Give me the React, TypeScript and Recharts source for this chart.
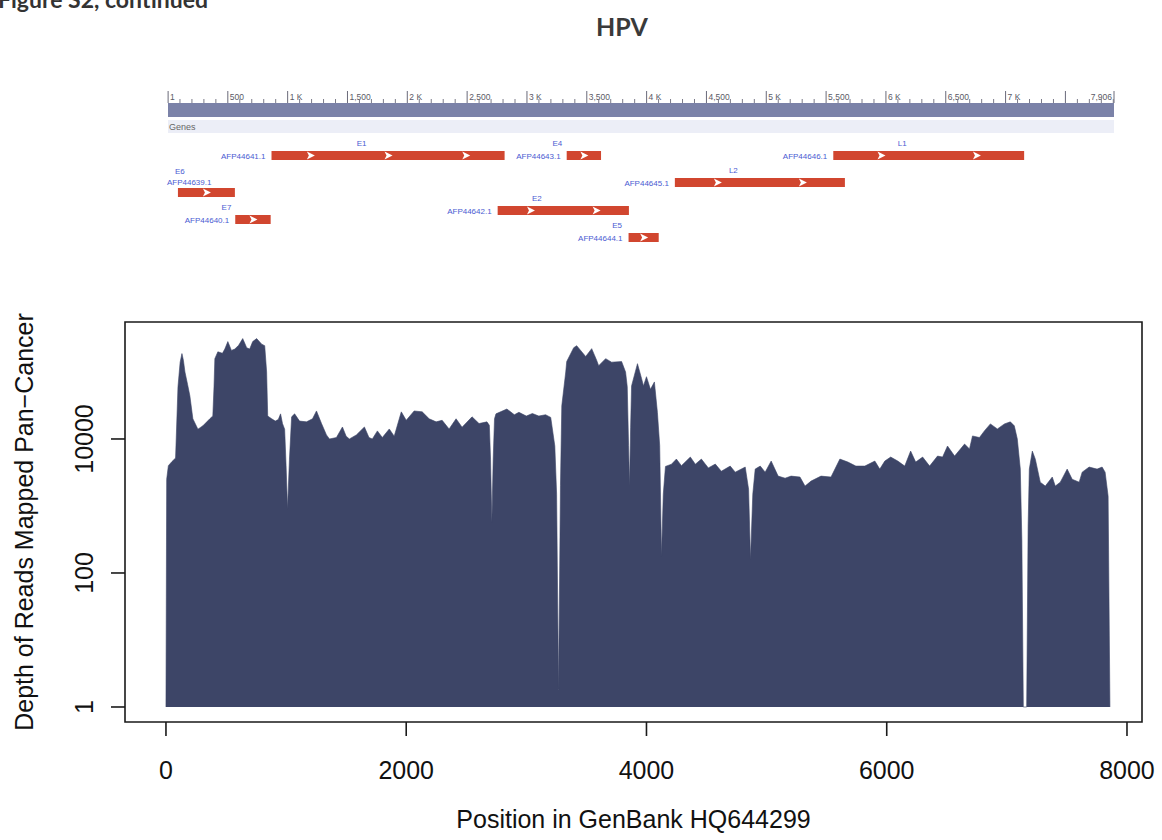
import React from 'react'
import { AreaChart, Area, ComposedChart, Scatter, XAxis, YAxis, ReferenceArea } from 'recharts'

// read depth along the HPV genome (bp position -> depth, pan-cancer)
const positions = [
  0, 6, 20, 50, 80, 100, 118, 133, 145, 158, 180, 199, 224, 266, 290, 307, 340, 365, 390, 400,
  407, 432, 470, 490, 515, 545, 573, 605, 639, 672, 697, 722, 755, 797, 822, 838, 847, 880, 910, 935,
  954, 970, 988, 1000, 1012, 1028, 1046, 1071, 1112, 1170, 1220, 1253, 1295, 1336, 1361, 1419, 1469, 1500, 1527, 1585,
  1652, 1690, 1718, 1760, 1801, 1859, 1900, 1959, 2000, 2066, 2133, 2191, 2249, 2299, 2357, 2415, 2465, 2548, 2606, 2672,
  2692, 2702, 2713, 2724, 2735, 2747, 2838, 2900, 2938, 3000, 3050, 3104, 3160, 3203, 3237, 3252, 3268, 3284, 3295, 3328,
  3336, 3394, 3419, 3494, 3544, 3585, 3602, 3660, 3710, 3793, 3826, 3840, 3851, 3859, 3868, 3876, 3925, 3959, 3975, 4000,
  4033, 4066, 4091, 4110, 4125, 4140, 4158, 4208, 4249, 4291, 4365, 4407, 4457, 4515, 4573, 4623, 4697, 4739, 4822, 4850,
  4866, 4885, 4905, 4947, 4988, 5038, 5096, 5154, 5204, 5278, 5320, 5370, 5453, 5536, 5610, 5677, 5743, 5818, 5901, 5942,
  5984, 6033, 6092, 6150, 6199, 6241, 6299, 6357, 6423, 6465, 6506, 6565, 6648, 6689, 6714, 6772, 6813, 6863, 6921, 6980,
  7029, 7062, 7087, 7112, 7125, 7137, 7165, 7177, 7187, 7212, 7237, 7278, 7320, 7378, 7403, 7445, 7502, 7544, 7602, 7627,
  7685, 7751, 7793, 7818, 7843, 7858,
]
const depths = [
  1, 2500, 4000, 4600, 5200, 60000, 140000, 188000, 150000, 100000, 65000, 44000, 20000, 14000, 15000, 15700, 18000, 20000, 22100, 60000,
  158000, 200000, 190000, 220000, 284000, 210000, 220000, 250000, 315000, 230000, 220000, 284000, 315000, 260000, 247000, 100000, 22000, 20000, 18500, 19500,
  23700, 17000, 14000, 4000, 900, 5000, 21400, 23700, 18500, 18000, 20000, 26200, 17000, 11500, 10000, 10500, 15100, 11000, 10000, 11500,
  15100, 10500, 10000, 13200, 10500, 14100, 11000, 25400, 19000, 26200, 25400, 20000, 18000, 19000, 14100, 20000, 15000, 21400, 17000, 18000,
  16000, 5000, 570, 5000, 20000, 23700, 28000, 23000, 25000, 22000, 24000, 22000, 23000, 21000, 7850, 1500, 1.8, 2000, 31200, 100000,
  143000, 230000, 247000, 170000, 223000, 150000, 124000, 158000, 140000, 143000, 100000, 60000, 8000, 1980, 15000, 62000, 133000, 80000, 62000, 85000,
  55000, 71000, 25000, 8000, 177, 1500, 3900, 4200, 5010, 4000, 5370, 4200, 5010, 3700, 4220, 3300, 3940, 3200, 3810, 1780,
  159, 1500, 3550, 3940, 3200, 4680, 2790, 2600, 2790, 2700, 1980, 2350, 2790, 2700, 5010, 4520, 3940, 3940, 4680, 3550,
  4680, 5370, 4680, 3940, 6600, 4520, 5370, 3940, 5560, 5370, 7850, 5560, 8400, 7100, 11100, 10500, 13200, 16800, 14100, 16800,
  18000, 15700, 10000, 3550, 300, 1, 1, 500, 3550, 6600, 5000, 2270, 1980, 2700, 1980, 2270, 3550, 2500, 2270, 3200,
  3810, 3550, 3810, 3200, 1400, 1,
]
const xTicks = [0, 2000, 4000, 6000, 8000]
const yTicks = [1, 100, 10000]

// gene track (GenBank HQ644299 CDS features)
const genomeLength = 7906
const geneNames = ['E6', 'E7', 'E1', 'E2', 'E4', 'E5', 'L2', 'L1']
const geneIds = ['AFP44639.1', 'AFP44640.1', 'AFP44641.1', 'AFP44642.1', 'AFP44643.1', 'AFP44644.1', 'AFP44645.1', 'AFP44646.1']
const geneStarts = [83, 562, 865, 2755, 3332, 3849, 4236, 5560]
const geneEnds = [559, 858, 2813, 3852, 3619, 4101, 5657, 7155]
const geneLanes = [2, 4, 0, 3, 0, 5, 1, 0]
const rulerTicks = [1, 500, 1000, 1500, 2000, 2500, 3000, 3500, 4000, 4500, 5000, 5500, 6000, 6500, 7000, 7500, 7906]
const rulerLabels = ['1', '500', '1 K', '1,500', '2 K', '2,500', '3 K', '3,500', '4 K', '4,500', '5 K', '5,500', '6 K', '6,500', '7 K', '', '7,906']
const rulerMinor = Array.from({ length: 79 }, (_, i) => (i + 1) * 100).filter(v => v % 500 !== 0)

const coverage = positions.map((p, i) => ({ pos: p, depth: depths[i] }))

// layout
const FONT = '"Liberation Sans", Arial, Helvetica, sans-serif'
const PLOT_L = 125
const PLOT_R = 1142
const PLOT_T = 322
const PLOT_B = 722
const X_DOMAIN: [number, number] = [-341, 8125]
const Y_DOMAIN: [number, number] = [0.597, 557000]
const LANE_TOP = [149, 176, 186, 204, 213, 231]
const BAR_H = 9
const FILL = '#3d4567'
const GENE_RED = '#d1462f'
const GENE_BLUE = '#4a5bd2'

const geneTable = geneNames.map((g, i) => ({
  name: g,
  start: geneStarts[i],
  top: LANE_TOP[geneLanes[i]],
}))

function XTick(props: any) {
  const { x, payload } = props
  return (
    <g>
      <line x1={x} x2={x} y1={PLOT_B} y2={PLOT_B + 14} stroke="#1a1a1a" strokeWidth={1.6} />
      <text x={x} y={779} textAnchor="middle" fontSize={25} fontFamily={FONT} fill="#111">{payload.value}</text>
    </g>
  )
}

function YTick(props: any) {
  const { y, payload } = props
  return (
    <g>
      <line x1={PLOT_L - 14} x2={PLOT_L} y1={y} y2={y} stroke="#1a1a1a" strokeWidth={1.6} />
      <text transform={`translate(93, ${y}) rotate(-90)`} textAnchor="middle" fontSize={25} fontFamily={FONT} fill="#111">
        {payload.value}
      </text>
    </g>
  )
}

function RulerTick(props: any) {
  const { x, payload } = props
  const i = rulerTicks.indexOf(payload.value)
  const last = payload.value === genomeLength
  return (
    <g>
      <line x1={x} x2={x} y1={91} y2={103} stroke="#6a6a7a" strokeWidth={1} />
      <text x={last ? x - 2 : x + 2} y={100} textAnchor={last ? 'end' : 'start'} fontSize={8.5} fontFamily={FONT} fill="#5a5a66">
        {rulerLabels[i]}
      </text>
    </g>
  )
}

function MinorTick(props: any) {
  const { x } = props
  return <line x1={x} x2={x} y1={99} y2={103} stroke="#7a7a88" strokeWidth={1} />
}

function GeneGlyph(props: any) {
  const { x, y, width, height, name, id } = props
  const stacked = x < 200
  const cy = y + height / 2
  const n = Math.max(1, Math.round(width / 85))
  const idW = 47
  const midName = (x - 6 - idW + x + width) / 2
  return (
    <g fontFamily={FONT} fontSize={8} fill={GENE_BLUE}>
      <rect x={x} y={y} width={width} height={height} fill={GENE_RED} />
      {Array.from({ length: n }, (_, i) => {
        const ax = x + ((i + 0.5) * width) / n
        return (
          <polygon
            key={i}
            points={`${ax - 3.5},${cy - 4} ${ax + 4.5},${cy} ${ax - 3.5},${cy + 4} ${ax - 1.5},${cy}`}
            fill="#fff"
          />
        )
      })}
      {stacked ? (
        <>
          <text x={x - 3} y={y - 14}>{name}</text>
          <text x={x - 11} y={y - 3}>{id}</text>
        </>
      ) : (
        <>
          <text x={midName} y={y - 5} textAnchor="middle">{name}</text>
          <text x={x - 6} y={cy + 3} textAnchor="end">{id}</text>
        </>
      )}
    </g>
  )
}

function GeneTrack() {
  return (
    <ComposedChart width={1162} height={250} data={geneTable} margin={{ top: 0, right: 48, bottom: 0, left: 168 }}>
      <XAxis
        dataKey="start"
        type="number"
        orientation="top"
        domain={[0, genomeLength]}
        ticks={rulerTicks}
        interval={0}
        tick={(p: any) => <RulerTick {...p} />}
        axisLine={false}
        tickLine={false}
        height={1}
        allowDataOverflow
      />
      <XAxis
        xAxisId="minor"
        dataKey="start"
        type="number"
        orientation="top"
        domain={[0, genomeLength]}
        ticks={rulerMinor}
        interval={0}
        tick={(p: any) => <MinorTick {...p} />}
        axisLine={false}
        tickLine={false}
        height={1}
        allowDataOverflow
      />
      <YAxis dataKey="top" type="number" domain={[0, 248]} reversed hide allowDataOverflow />
      <Scatter dataKey="top" fill="none" shape={() => <g />} isAnimationActive={false} />
      <ReferenceArea x1={0} x2={genomeLength} y1={101} y2={115} fill="#7b82a8" fillOpacity={1} stroke="none" ifOverflow="visible" />
      <ReferenceArea
        x1={0}
        x2={genomeLength}
        y1={118}
        y2={131}
        fill="#eceef7"
        fillOpacity={1}
        stroke="none"
        ifOverflow="visible"
        label={(p: any) => (
          <text x={p.viewBox.x + 1} y={p.viewBox.y + 10} fontSize={9} fontFamily={FONT} fill="#666">Genes</text>
        )}
      />
      {geneNames.map((g, i) => (
        <ReferenceArea
          key={g}
          x1={geneStarts[i]}
          x2={geneEnds[i]}
          y1={LANE_TOP[geneLanes[i]]}
          y2={LANE_TOP[geneLanes[i]] + BAR_H}
          ifOverflow="visible"
          shape={(p: any) => <GeneGlyph {...p} name={g} id={geneIds[i]} />}
        />
      ))}
    </ComposedChart>
  )
}

function CoverageChart() {
  return (
    <AreaChart width={1162} height={840} data={coverage} margin={{ top: PLOT_T, right: 1162 - PLOT_R, bottom: 840 - PLOT_B - 60, left: PLOT_L - 60 }}>
      <XAxis
        dataKey="pos"
        type="number"
        domain={X_DOMAIN}
        ticks={xTicks}
        interval={0}
        tick={(p: any) => <XTick {...p} />}
        axisLine={false}
        tickLine={false}
        height={60}
        allowDataOverflow
      />
      <YAxis
        type="number"
        scale="log"
        domain={Y_DOMAIN}
        ticks={yTicks}
        interval={0}
        tick={(p: any) => <YTick {...p} />}
        axisLine={false}
        tickLine={false}
        width={60}
        allowDataOverflow
      />
      <Area
        dataKey="depth"
        type="linear"
        baseValue={1}
        fill={FILL}
        fillOpacity={1}
        stroke={FILL}
        strokeWidth={0.6}
        dot={false}
        activeDot={false}
        isAnimationActive={false}
      />
      <ReferenceArea
        x1={X_DOMAIN[0]}
        x2={X_DOMAIN[1]}
        y1={Y_DOMAIN[0]}
        y2={Y_DOMAIN[1]}
        fill="none"
        stroke="#1a1a1a"
        strokeWidth={1.6}
        ifOverflow="visible"
      />
    </AreaChart>
  )
}

export default function App() {
  return (
    <div style={{ position: 'absolute', left: 0, top: 0, width: 1162, height: 840, background: '#fff', overflow: 'hidden' }}>
      <div style={{ position: 'absolute', left: 0, top: 0 }}>
        <GeneTrack />
      </div>
      <div style={{ position: 'absolute', left: 0, top: 0 }}>
        <CoverageChart />
      </div>
      <svg width={1162} height={840} style={{ position: 'absolute', left: 0, top: 0, pointerEvents: 'none' }}>
        <text x={-2} y={8} fontFamily="Lato, 'Open Sans', sans-serif" fontWeight={700} fontSize={23} fill="#333">
          Figure S2, continued
        </text>
        <text x={622} y={36} textAnchor="middle" fontFamily="Lato, 'Open Sans', sans-serif" fontWeight={700} fontSize={25} fill="#3a3a3a">
          HPV
        </text>
        <text x={(PLOT_L + PLOT_R) / 2} y={828} textAnchor="middle" fontFamily={FONT} fontSize={25} fill="#111">
          Position in GenBank HQ644299
        </text>
        <text transform={`translate(33, ${(PLOT_T + PLOT_B) / 2}) rotate(-90)`} textAnchor="middle" fontFamily={FONT} fontSize={25} fill="#111">
          Depth of Reads Mapped Pan−Cancer
        </text>
      </svg>
    </div>
  )
}
